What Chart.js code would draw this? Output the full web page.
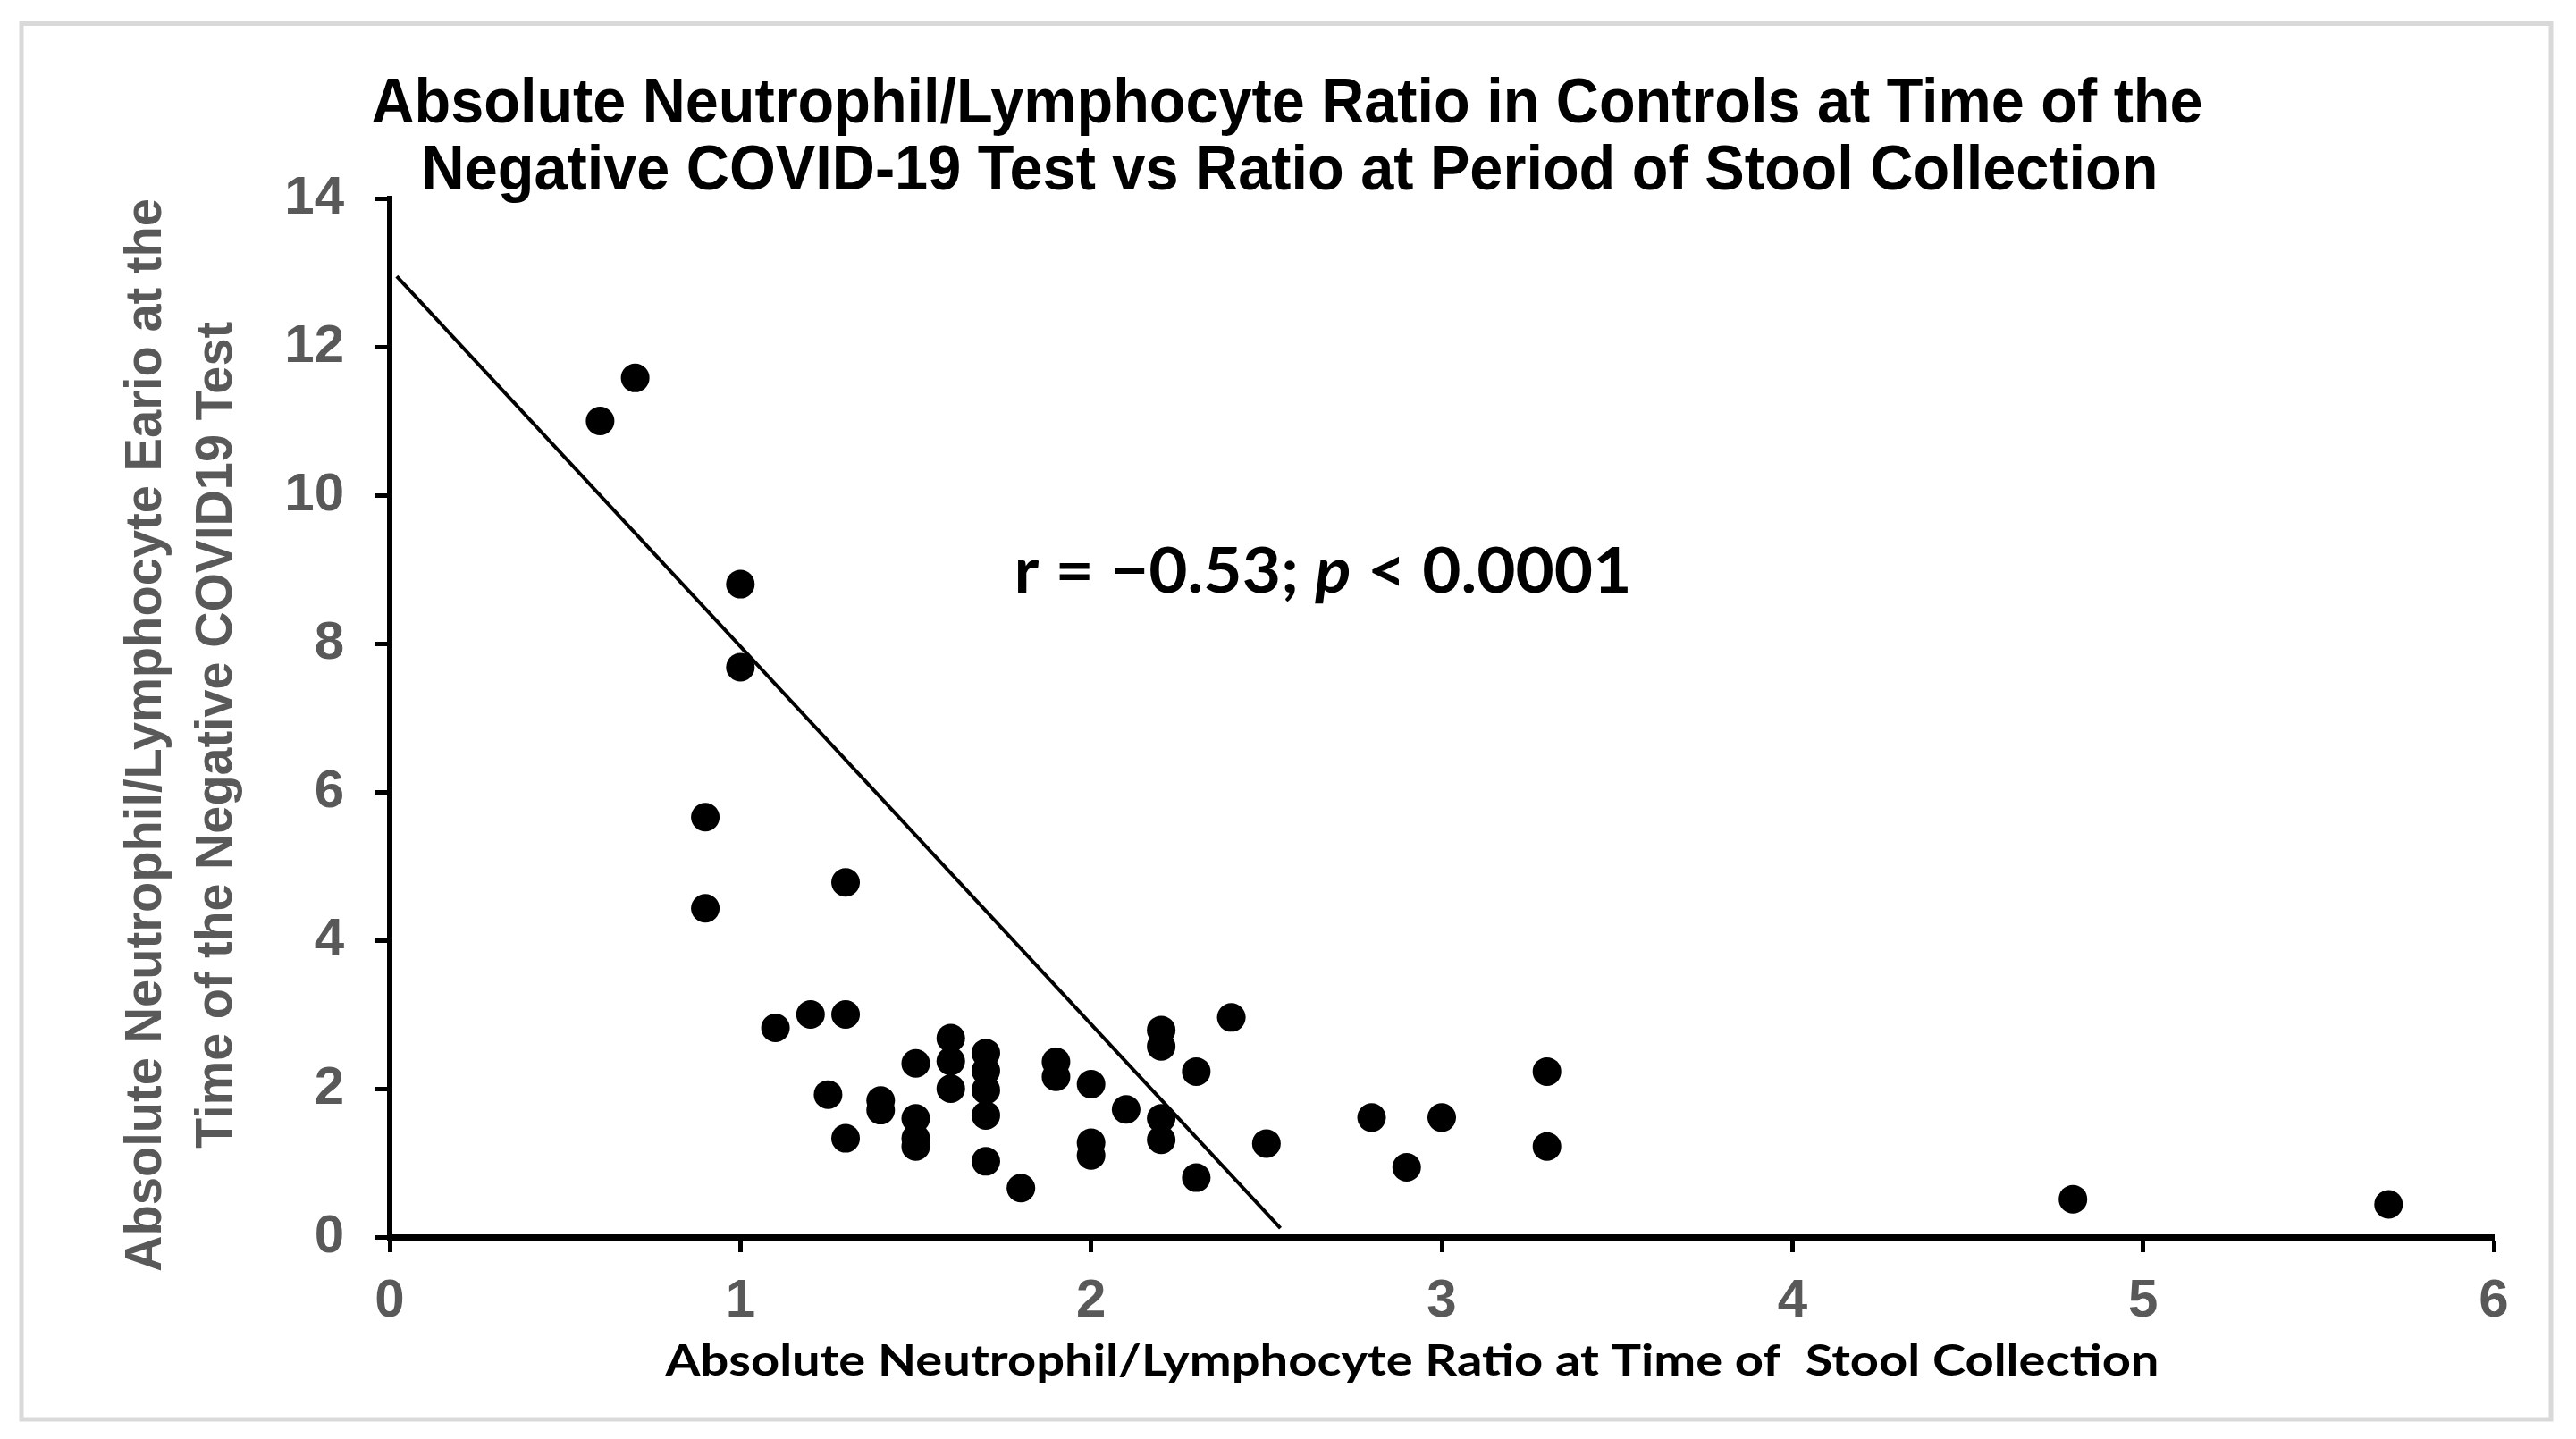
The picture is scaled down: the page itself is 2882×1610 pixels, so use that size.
<!DOCTYPE html>
<html>
<head>
<meta charset="utf-8">
<title>Absolute Neutrophil/Lymphocyte Ratio in Controls</title>
<script src="https://cdn.jsdelivr.net/npm/chart.js@4.4.1/dist/chart.umd.min.js"></script>
<style>
  html, body { margin: 0; padding: 0; background: #ffffff; }
  canvas { display: block; }
</style>
</head>
<body>
<canvas id="nlrChart" width="2882" height="1610"></canvas>
<script>
// Ratio at time of stool collection (x) for each control
const stoolRatio = [
  0.6, 0.7, 0.9, 0.9, 1.0, 1.0, 1.1, 1.2, 1.25, 1.3, 1.3, 1.3,
  1.4, 1.4, 1.5, 1.5, 1.5, 1.5, 1.6, 1.6, 1.6, 1.7, 1.7, 1.7,
  1.7, 1.7, 1.8, 1.9, 1.9, 2.0, 2.0, 2.0, 2.1, 2.2, 2.2, 2.2,
  2.2, 2.3, 2.3, 2.4, 2.5, 2.8, 2.9, 3.0, 3.3, 3.3, 4.8, 5.7
];
// Ratio at time of the negative COVID-19 test (y), same order
const testRatio = [
  11.0, 11.58, 5.66, 4.43, 8.8, 7.68, 2.82, 3.0, 1.92, 4.78, 3.0, 1.33,
  1.84, 1.71, 2.34, 1.6, 1.33, 1.22, 2.68, 2.37, 2.0, 2.48, 2.24, 1.98,
  1.64, 1.02, 0.66, 2.36, 2.16, 2.06, 1.27, 1.1, 1.72, 2.79, 2.57, 1.6,
  1.31, 2.23, 0.8, 2.96, 1.26, 1.61, 0.94, 1.61, 2.23, 1.22, 0.51, 0.44
];
// Fitted line (two end points)
const fitX = [0.02, 2.54];
const fitY = [12.95, 0.12];

// Axis ticks
const xTicks = [0, 1, 2, 3, 4, 5, 6];
const yTicks = [0, 2, 4, 6, 8, 10, 12, 14];

// Texts
const titleLines = [
  "Absolute Neutrophil/Lymphocyte Ratio in Controls at Time of the",
  "Negative COVID-19 Test vs Ratio at Period of Stool Collection"
];
const xTitle = "Absolute Neutrophil/Lymphocyte Ratio at Time of  Stool Collection";
const yTitleLines = [
  "Absolute Neutrophil/Lymphocyte Eario at the",
  "Time of the Negative COVID19 Test"
];
const statParts = [
  { text: "r = \u22120.53; ", italic: false },
  { text: "p", italic: true },
  { text: " < 0.0001", italic: false }
];

const GREY = "#595959";
const tickFont = { family: "'Liberation Sans', Arial, sans-serif", size: 60, weight: "bold" };

// Draws text pieces squeezed/stretched to a given width, centred on cx
function drawFitted(ctx, parts, cx, baseline, width, color) {
  ctx.save();
  ctx.textBaseline = "alphabetic";
  ctx.textAlign = "left";
  let total = 0;
  parts.forEach(p => {
    ctx.font = p.font;
    p.w = ctx.measureText(p.text).width;
    total += p.w;
  });
  ctx.translate(cx - width / 2, baseline);
  ctx.scale(width / total, 1);
  ctx.fillStyle = color;
  let x = 0;
  parts.forEach(p => {
    ctx.font = p.font;
    ctx.fillText(p.text, x, 0);
    x += p.w;
  });
  ctx.restore();
}

// Frame, titles and annotation drawn around the plot
const decorPlugin = {
  id: "decor",
  beforeDraw(chart) {
    const ctx = chart.ctx;
    ctx.save();
    ctx.fillStyle = "#ffffff";
    ctx.fillRect(0, 0, chart.width, chart.height);
    ctx.strokeStyle = "#d9d9d9";
    ctx.lineWidth = 5;
    ctx.strokeRect(24, 26.5, 2830, 1561.5);
    ctx.restore();
  },
  afterDraw(chart) {
    const ctx = chart.ctx;
    const titleFont = "bold 70px 'Liberation Sans Narrow', 'Liberation Sans', Arial, sans-serif";
    drawFitted(ctx, [{ text: titleLines[0], font: titleFont }], 1440, 137, 2049, "#000000");
    drawFitted(ctx, [{ text: titleLines[1], font: titleFont }], 1443, 212, 1943, "#000000");

    // r / p annotation
    const parts = statParts.map(p => ({
      text: p.text,
      font: (p.italic ? "italic " : "") + "bold 70px Lato, 'Open Sans', sans-serif"
    }));
    drawFitted(ctx, parts, 1480, 663, 691, "#000000");

    // x axis title
    drawFitted(ctx, [{ text: xTitle, font: "bold 48px Lato, 'Open Sans', sans-serif" }], 1580, 1539, 1671, "#000000");

    // y axis title (rotated)
    const yFont = "bold 57px 'Liberation Sans', Arial, sans-serif";
    const yLines = [
      { text: yTitleLines[0], base: 180, len: 1201 },
      { text: yTitleLines[1], base: 259, len: 925 }
    ];
    yLines.forEach(l => {
      ctx.save();
      ctx.translate(l.base, 822.5);
      ctx.rotate(-Math.PI / 2);
      drawFitted(ctx, [{ text: l.text, font: yFont }], 0, 0, l.len, GREY);
      ctx.restore();
    });
  }
};

function buildChart() {
  const ctx = document.getElementById("nlrChart").getContext("2d");
  const points = stoolRatio.map((x, i) => ({ x: x, y: testRatio[i] }));
  const fitLine = fitX.map((x, i) => ({ x: x, y: fitY[i] }));

  new Chart(ctx, {
    type: "scatter",
    data: {
      datasets: [
        {
          label: "Controls",
          data: points,
          backgroundColor: "#000000",
          borderWidth: 0,
          pointRadius: 16,
          pointHoverRadius: 16
        },
        {
          label: "Fit",
          data: fitLine,
          showLine: true,
          borderColor: "#000000",
          borderWidth: 4,
          pointRadius: 0,
          pointHoverRadius: 0
        }
      ]
    },
    options: {
      responsive: false,
      devicePixelRatio: 1,
      animation: false,
      events: [],
      layout: { padding: { top: 222, right: 92, left: 0, bottom: 0 } },
      plugins: {
        legend: { display: false },
        tooltip: { enabled: false },
        title: { display: false }
      },
      scales: {
        x: {
          type: "linear",
          min: xTicks[0],
          max: xTicks[xTicks.length - 1],
          afterBuildTicks: scale => { scale.ticks = xTicks.map(v => ({ value: v })); },
          afterFit: scale => { scale.height = 226; },
          ticks: { color: GREY, font: tickFont, padding: 19, maxRotation: 0 },
          grid: { drawOnChartArea: false, tickLength: 17, tickWidth: 5, tickColor: "#000000" },
          border: { display: true, color: "#000000", width: 7 }
        },
        y: {
          type: "linear",
          min: yTicks[0],
          max: yTicks[yTicks.length - 1],
          afterBuildTicks: scale => { scale.ticks = yTicks.map(v => ({ value: v })); },
          afterFit: scale => { scale.width = 436; },
          ticks: { color: GREY, font: tickFont, padding: 34 },
          grid: { drawOnChartArea: false, tickLength: 17, tickWidth: 5, tickColor: "#000000" },
          border: { display: true, color: "#000000", width: 6 }
        }
      }
    },
    plugins: [decorPlugin]
  });
}

document.addEventListener("DOMContentLoaded", buildChart);
</script>
</body>
</html>
